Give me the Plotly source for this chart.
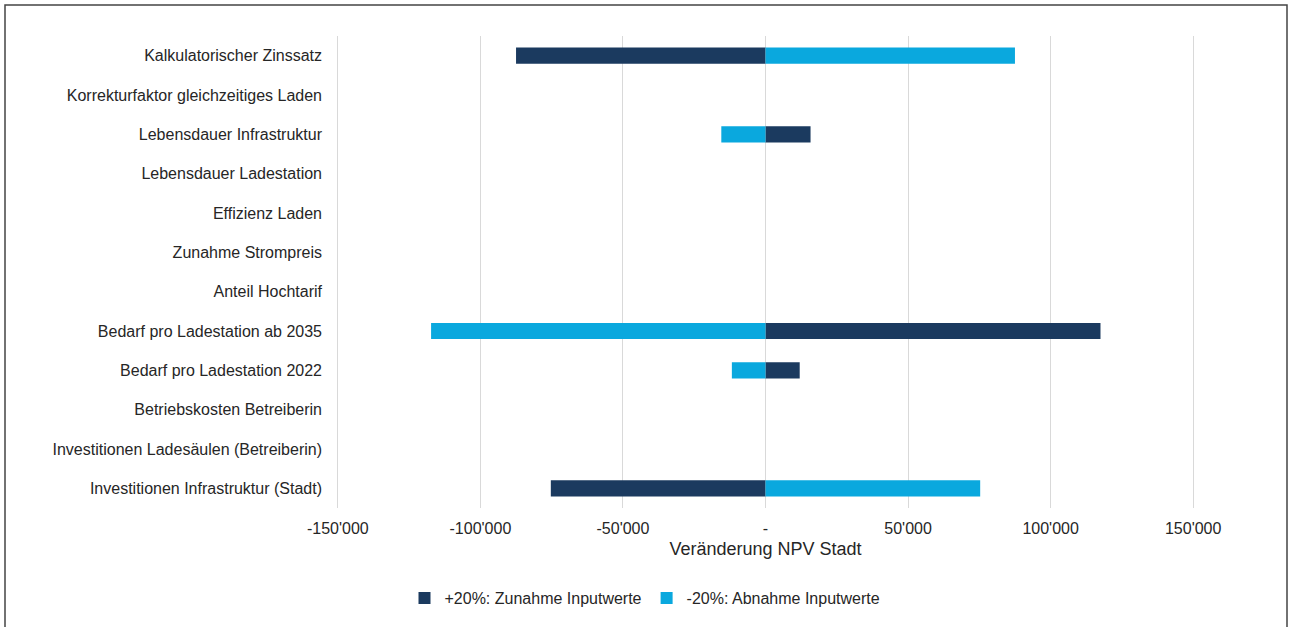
import plotly.graph_objects as go

categories = [
    "Kalkulatorischer Zinssatz",
    "Korrekturfaktor gleichzeitiges Laden",
    "Lebensdauer Infrastruktur",
    "Lebensdauer Ladestation",
    "Effizienz Laden",
    "Zunahme Strompreis",
    "Anteil Hochtarif",
    "Bedarf pro Ladestation ab 2035",
    "Bedarf pro Ladestation 2022",
    "Betriebskosten Betreiberin",
    "Investitionen Ladesäulen (Betreiberin)",
    "Investitionen Infrastruktur (Stadt)",
]
plus20 = [-87500, 0, 15800, 0, 0, 0, 0, 117500, 12000, 0, 0, -75300]
minus20 = [87500, 0, -15500, 0, 0, 0, 0, -117300, -11800, 0, 0, 75300]

tick_vals = [-150000, -100000, -50000, 0, 50000, 100000, 150000]
tick_text = ["-150'000", "-100'000", "-50'000", "-", "50'000", "100'000", "150'000"]

series_names = ["+20%: Zunahme Inputwerte", "-20%: Abnahme Inputwerte"]
colors = ["#1b3a5f", "#0aa8de"]

W, H = 1290, 627
L, R, T, B = 335, 94, 36, 119
pw, ph = W - L - R, H - T - B

def px_x(x):
    return (x - L) / pw

def px_y(y):
    return (H - B - y) / ph

fig = go.Figure()
fig.add_trace(go.Bar(y=categories, x=plus20, orientation="h", name=series_names[0],
                     marker=dict(color=colors[0], line=dict(width=0))))
fig.add_trace(go.Bar(y=categories, x=minus20, orientation="h", name=series_names[1],
                     marker=dict(color=colors[1], line=dict(width=0))))

fig.update_layout(
    width=W, height=H,
    margin=dict(l=L, r=R, t=T, b=B, pad=0),
    paper_bgcolor="white", plot_bgcolor="white",
    barmode="relative", bargap=0.59,
    font=dict(family="Liberation Sans, Arial, sans-serif", size=16, color="#262626"),
    xaxis=dict(range=[-151000, 151000], tickvals=tick_vals, ticktext=tick_text,
               showgrid=True, gridcolor="#d9d9d9", gridwidth=1, zeroline=False,
               showline=False, ticks="", ticklabelstandoff=9,
               tickfont=dict(size=16, color="#262626"),
               title=dict(text="Veränderung NPV Stadt", font=dict(size=18, color="#262626"), standoff=6)),
    yaxis=dict(autorange="reversed", showgrid=False, zeroline=False, showline=False,
               ticks="", ticklabelstandoff=12, tickfont=dict(size=16, color="#262626")),
    legend=dict(orientation="h", x=px_x(645), xanchor="center", y=px_y(598), yanchor="middle",
                font=dict(size=16, color="#262626"), traceorder="normal",
                itemwidth=30),
    showlegend=True,
    shapes=[dict(type="rect", xref="paper", yref="paper",
                 x0=px_x(5), x1=px_x(1287), y0=px_y(640), y1=px_y(5),
                 line=dict(color="#444444", width=1.5), layer="below")],
)

fig.write_html("out.html")
